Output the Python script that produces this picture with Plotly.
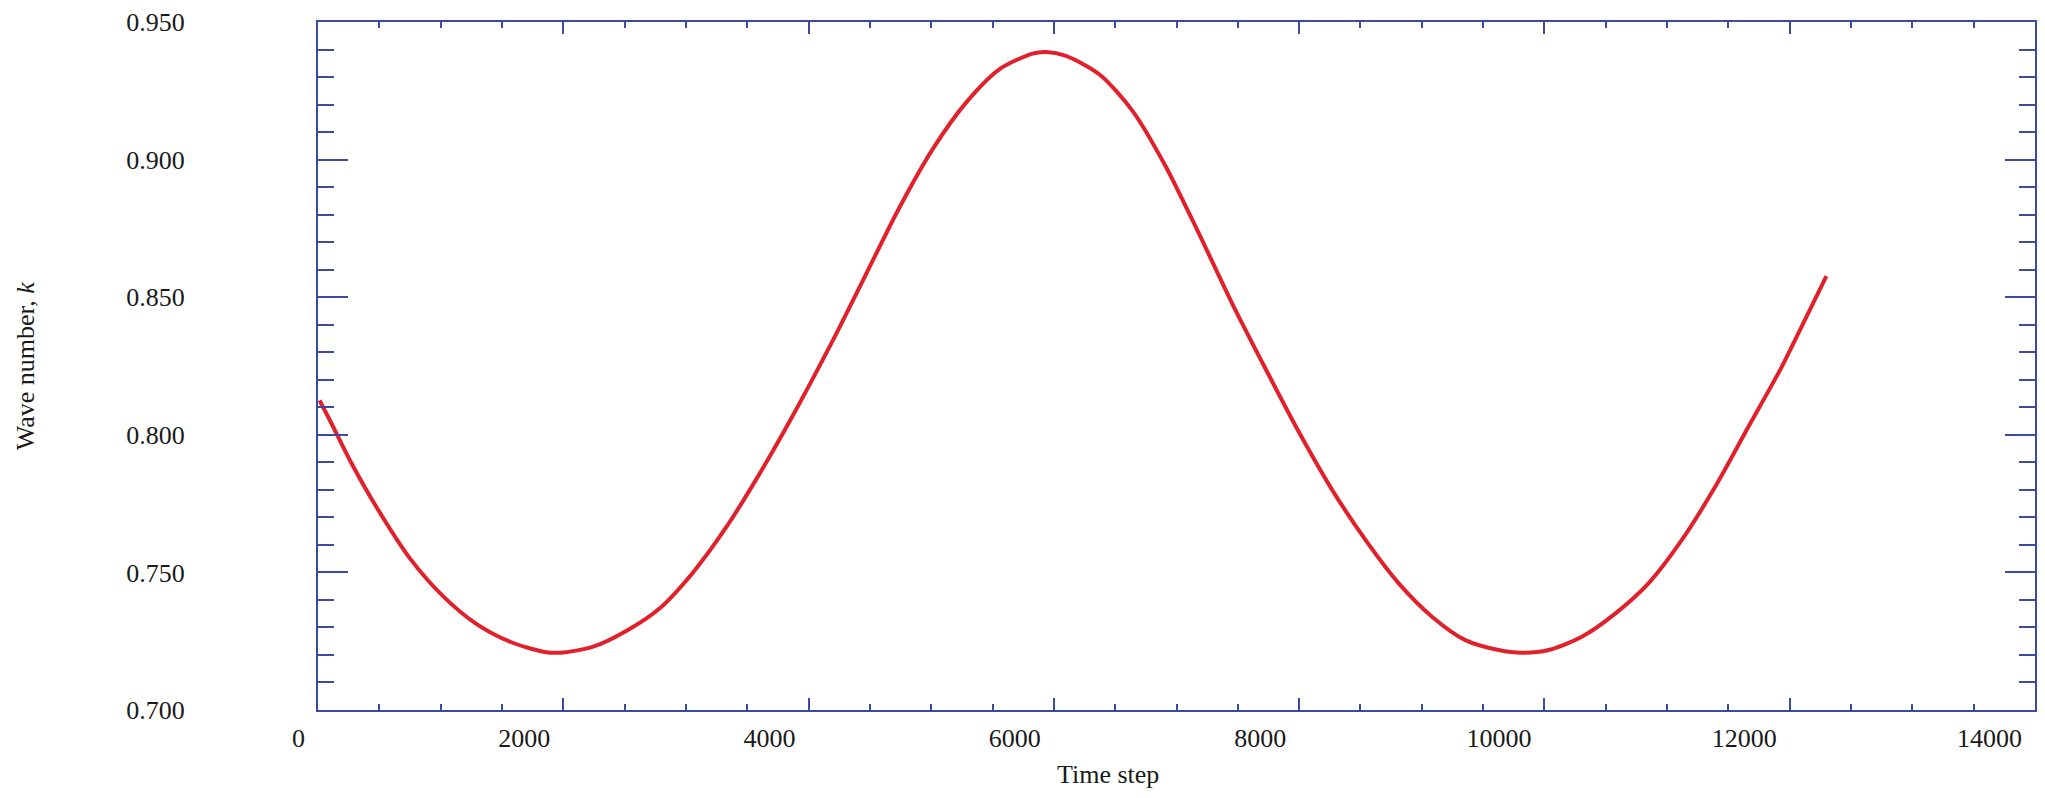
import plotly.graph_objects as go

# readings: time step vs wave number k
time_step = [13, 100, 263, 480, 751, 1023, 1294, 1565, 1837, 1973,
             2244, 2516, 2787, 3058, 3330, 3601, 3872, 4198, 4470, 4741,
             5012, 5284, 5555, 5826, 5935, 6098, 6370, 6641, 6912, 7184,
             7455, 7726, 7998, 8269, 8541, 8812, 9083, 9355, 9626, 9816,
             10034, 10305, 10577, 10848, 11119, 11391, 11662, 11934, 12069, 12299]
wave_k = [0.8125, 0.8050, 0.7905, 0.7735, 0.7550, 0.7412, 0.7312, 0.7248, 0.7212, 0.7208,
          0.7230, 0.7288, 0.7370, 0.7500, 0.7665, 0.7859, 0.8070, 0.8343, 0.8585, 0.8826,
          0.9038, 0.9207, 0.9328, 0.9385, 0.9391, 0.9377, 0.9310, 0.9177, 0.8975, 0.8730,
          0.8476, 0.8240, 0.8010, 0.7800, 0.7618, 0.7460, 0.7339, 0.7254, 0.7218, 0.7208,
          0.7218, 0.7266, 0.7350, 0.7460, 0.7617, 0.7810, 0.8028, 0.8246, 0.8368, 0.8577]

x_ticks = [0, 2000, 4000, 6000, 8000, 10000, 12000, 14000]
x_ticktext = ["0", "2000", "4000", "6000", "8000", "10000", "12000", "14000"]
y_ticks = [0.70, 0.75, 0.80, 0.85, 0.90, 0.95]
y_ticktext = ["0.700", "0.750", "0.800", "0.850", "0.900", "0.950"]

AXIS = "#3b4ba3"
FONT = "Liberation Serif"
TEXT = "#1a1a1a"

fig = go.Figure()
fig.add_trace(go.Scatter(x=time_step, y=wave_k, mode="lines",
                         line=dict(color="#e0202a", width=4, shape="spline", smoothing=0.8)))

fig.update_xaxes(range=[0, 14000], tickvals=x_ticks, ticktext=x_ticktext,
                 ticks="inside", ticklen=12, tickwidth=2, tickcolor=AXIS,
                 minor=dict(dtick=500, ticks="inside", ticklen=6, tickwidth=1.5, tickcolor=AXIS),
                 showline=True, linecolor=AXIS, linewidth=2, mirror="ticks",
                 showgrid=False, zeroline=False, ticklabeloverflow="allow",
                 ticklabelposition="outside left", ticklabelshift=-11, ticklabelstandoff=4,
                 tickfont=dict(family=FONT, size=26, color=TEXT))
fig.update_yaxes(range=[0.70, 0.95], tickvals=y_ticks, ticktext=y_ticktext,
                 ticks="inside", ticklen=30, tickwidth=2, tickcolor=AXIS,
                 minor=dict(dtick=0.01, tick0=0.70, ticks="inside", ticklen=16, tickwidth=1.5, tickcolor=AXIS),
                 showline=True, linecolor=AXIS, linewidth=2, mirror="ticks",
                 showgrid=False, zeroline=False, ticklabelstandoff=126, ticklabeloverflow="allow",
                 tickfont=dict(family=FONT, size=26, color=TEXT))

fig.add_annotation(text="Time step", xref="paper", yref="paper", x=0.46, y=-0.094,
                   xanchor="center", yanchor="middle", showarrow=False,
                   font=dict(family=FONT, size=26, color=TEXT))
fig.add_annotation(text="Wave number, <i>k</i>", xref="paper", yref="paper", x=-0.1705, y=0.5,
                   xanchor="center", yanchor="middle", textangle=-90, showarrow=False,
                   font=dict(family=FONT, size=26, color=TEXT))

# page body has an 8px margin, so the figure is a bit smaller than the window
fig.update_layout(width=2029, height=782, showlegend=False,
                  margin=dict(l=310, r=0, t=13, b=80),
                  paper_bgcolor="white", plot_bgcolor="white")

fig.write_html("out.html")
